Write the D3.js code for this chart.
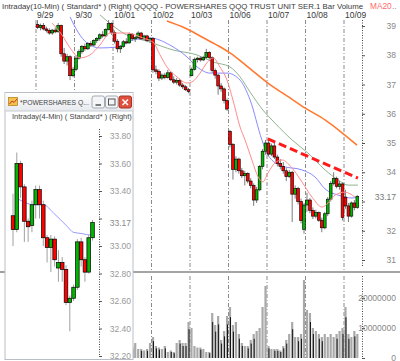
<!DOCTYPE html>
<html><head><meta charset="utf-8">
<script src="https://cdn.jsdelivr.net/npm/d3@7"></script>
<style>
body{margin:0;background:#fff;overflow:hidden}
svg{display:block}
text{font-family:"Liberation Sans",Arial,sans-serif}
</style>
</head><body>
<svg id="c" width="400" height="361"></svg>
<script>
// ---------- DATA ----------
const dayLabels = ["9/29","9/30","10/01","10/02","10/03","10/06","10/07","10/08","10/09"];
const barsPerDay = 13;
// [open, high, low, close]
const ohlc = [
 [39.05,39.20,38.90,38.95],[38.95,39.08,38.85,39.02],[39.02,39.10,38.85,38.90],[38.90,38.98,38.78,38.85],
 [38.85,38.92,38.70,38.76],[38.76,38.90,38.70,38.86],[38.86,38.95,38.75,38.80],[38.80,39.10,38.78,39.02],
 [39.02,39.05,37.95,38.05],[38.05,38.25,37.70,37.80],[37.80,38.05,37.65,37.95],[37.95,38.00,37.15,37.30],
 [37.30,37.60,37.25,37.52],
 [37.52,38.00,37.45,37.90],[37.90,38.20,37.85,38.12],[38.12,38.35,38.05,38.30],[38.30,38.40,38.15,38.22],
 [38.22,38.45,38.18,38.40],[38.40,38.48,38.28,38.35],[38.35,38.55,38.30,38.50],[38.50,38.62,38.42,38.58],
 [38.58,38.75,38.50,38.70],[38.70,38.82,38.60,38.66],[38.66,38.92,38.62,38.88],[38.88,39.20,38.85,39.08],
 [39.08,39.12,38.70,38.78],
 [38.78,38.85,38.40,38.48],[38.48,38.55,38.10,38.22],[38.22,38.35,38.08,38.30],[38.30,38.52,38.25,38.46],
 [38.46,38.58,38.38,38.42],[38.42,38.78,38.40,38.72],[38.72,38.76,38.50,38.56],[38.56,38.66,38.45,38.60],
 [38.60,38.82,38.55,38.76],[38.76,38.80,38.52,38.56],[38.56,38.70,38.50,38.66],[38.66,38.70,38.45,38.50],
 [38.50,38.62,38.42,38.58],
 [38.58,38.62,37.40,37.50],[37.50,37.65,37.35,37.45],[37.45,37.52,37.12,37.22],[37.22,37.38,37.15,37.32],
 [37.32,37.40,37.18,37.24],[37.24,37.50,37.20,37.40],[37.40,37.44,37.12,37.16],[37.16,37.28,37.02,37.08],
 [37.08,37.22,37.00,37.14],[37.14,37.20,36.92,36.98],[36.98,37.05,36.85,36.92],[36.92,36.98,36.78,36.82],
 [36.82,36.88,36.70,36.76],
 [37.30,37.58,37.28,37.52],[37.52,37.92,37.48,37.85],[37.85,37.95,37.75,37.90],[37.90,37.96,37.78,37.84],
 [37.84,37.98,37.80,37.92],[37.92,38.22,37.88,38.10],[38.10,38.14,37.85,37.92],[37.92,37.96,37.40,37.48],
 [37.48,37.55,37.20,37.32],[37.32,37.36,36.65,36.95],[36.95,37.05,36.75,36.85],[36.85,36.90,36.35,36.45],
 [36.45,36.52,36.10,36.16],
 [35.40,35.45,34.85,34.95],[34.95,35.00,33.75,34.10],[34.10,34.55,34.00,34.45],[34.45,34.50,33.95,34.05],
 [34.05,34.15,33.80,33.88],[33.88,34.05,33.55,33.96],[33.96,34.00,33.62,33.70],[33.70,33.80,33.45,33.55],
 [33.55,33.62,32.85,33.05],[33.05,33.50,32.95,33.40],[33.40,34.25,33.35,34.20],[34.20,34.80,34.10,34.72],
 [34.72,35.10,34.60,35.00],
 [35.00,35.15,34.55,34.62],[34.62,34.98,34.55,34.90],[34.90,35.00,34.45,34.52],[34.52,34.60,34.20,34.30],
 [34.30,34.45,34.10,34.20],[34.20,34.35,33.95,34.05],[34.05,34.15,33.70,33.85],[33.85,34.08,33.80,34.00],
 [34.00,34.05,32.30,33.25],[33.25,33.55,33.10,33.45],[33.45,33.50,32.90,33.00],[33.00,33.10,32.25,32.35],
 [32.05,32.95,31.90,32.88],
 [32.88,33.30,32.65,33.05],[33.05,33.12,32.60,32.70],[32.70,32.80,32.40,32.50],[32.50,32.72,32.42,32.62],
 [32.62,32.66,32.30,32.36],[32.36,32.45,31.95,32.10],[32.10,32.65,32.05,32.58],[32.58,33.15,32.50,33.08],
 [33.08,33.70,33.00,33.62],[33.62,34.00,33.55,33.78],[33.78,33.85,33.45,33.52],[33.52,33.70,33.40,33.60],
 [33.60,33.65,32.35,32.45],
 [33.15,33.40,32.75,32.85],[32.85,32.95,32.30,32.50],[32.50,33.00,32.45,32.95],[32.95,33.05,32.70,32.80],
 [32.80,33.22,32.75,33.17]
];
// volume per bar, millions of shares
const volumeM = [
 8,4,3,3,3,3,4,5,10,7,6,8,9,
 6,4,3,3,3,3,4,3,3,4,5,6,8,
 7,5,4,3,3,4,4,5,3,3,2.5,3,5,
 7,4,3.5,3,4,2,2.5,2,5,6,5,5,12,
 10,4,3.5,3.5,3,2,2,15,11,14,6,9,14,
 17,11,12,8,5,4,4,6,8,9,10,17,24,
 4,3,3,3,2.5,4,6,8,12,7,7,8,26,
 16,15,10,9,8,7,8,7,8,7,8,9,10,
 17,8,7,9,8
];
// moving averages: [bar index, price]
const maPink = [[4.9,39.10],[8.3,38.69],[11.0,38.25],[14.4,37.91],[17.7,38.01],[21.1,38.35],[24.5,38.76],
 [30.2,38.76],[35.6,38.59],[39.0,38.45],[41.4,38.01],[43.7,37.60],[47.1,37.26],[50.5,37.05],[52.2,37.09],
 [54.9,37.39],[57.2,37.74],[59.3,37.91],[61.6,37.60],[64.0,37.15],[66.0,36.47],[68.4,35.55],[70.1,35.10],
 [72.4,34.42],[74.5,33.84],[76.1,33.67],[77.8,33.97],[80.2,34.32],[82.6,34.42],[85.9,34.15],[89.3,33.67],
 [92.7,33.15],[96.1,32.81],[98.1,32.95],[100.5,33.22],[103.8,33.32],[107.2,33.15]];
const maBlue = [[11.0,39.31],[13.7,38.79],[16.7,38.42],[21.1,38.25],[26.9,38.28],[32.3,38.52],[38.0,38.59],
 [44.7,38.35],[50.5,37.94],[53.9,37.60],[58.3,37.39],[64.0,37.39],[68.4,37.15],[71.8,36.47],[75.8,35.10],
 [77.8,34.59],[82.6,34.21],[89.3,34.08],[93.7,33.84],[97.1,33.43],[101.5,33.22],[106.2,33.12],[108.2,33.15]];
const maGreen = [[21.1,39.38],[25.2,39.03],[28.9,38.76],[38.0,38.45],[45.8,38.18],[53.9,38.01],[59.3,37.77],
 [65.0,37.60],[68.4,37.26],[71.8,36.74],[76.1,36.13],[80.2,35.68],[86.0,35.10],[91.3,34.66],[97.1,34.08],
 [101.5,33.74],[104.9,33.56],[108.2,33.56]];
const maOrange = [[43.7,39.17],[49.8,38.93],[54.9,38.66],[60.0,38.38],[65.0,38.08],[70.7,37.63],[77.8,37.05],
 [85.3,36.54],[90.3,36.20],[97.1,35.79],[102.1,35.41],[107.9,34.93]];
const trendLine = [[77.8,35.14],[108.2,33.80]];
const priceTicks = [31,32,33,34,35,36,37,38,39];
const lastPrice = 33.17;
const volTicks = [0,10,20];

// inset (4-min) window
const insetOHLC = [
 [33.22,33.38,33.00,33.12],[33.12,33.68,33.10,33.60],[33.60,33.62,33.35,33.43],[33.43,33.45,33.03,33.18],
 [33.18,33.20,33.03,33.14],[33.15,33.33,33.10,33.30],[33.30,33.44,33.20,33.41],[33.41,33.44,33.20,33.30],
 [33.30,33.33,33.00,33.06],[33.06,33.08,32.88,32.99],[32.99,33.08,32.81,33.05],[33.05,33.07,32.85,32.90],
 [32.84,32.97,32.74,32.88],[32.88,32.92,32.74,32.83],[32.83,32.86,32.57,32.59],[32.59,32.64,32.38,32.62],
 [32.62,32.72,32.60,32.70],[32.70,33.05,32.68,33.03],[33.03,33.06,32.85,32.90],[32.90,32.92,32.74,32.81],
 [32.81,33.08,32.80,33.06],[33.06,33.19,33.04,33.17]
];
const insetMA = [[1.5,33.34],[5.5,33.30],[8.1,33.30],[10.7,33.24],[14.4,33.14],[15.9,33.10],[18.3,33.09],[20.4,33.08],[21,33.10]];
const insetTicks = [32.2,32.4,32.6,32.8,33.0,33.2,33.4,33.6,33.8];
const insetLast = 33.17;

// ---------- DRAW ----------
const svg = d3.select("#c");
const defs = svg.append("defs");
const GREEN = "#00b400", RED = "#ff0000";

const x = d3.scaleLinear().domain([0, barsPerDay * dayLabels.length]).range([36, 382.5]);
const y = d3.scaleLinear().domain([31, 39]).range([260, 26]);
const yv = d3.scaleLinear().domain([0, 20]).range([358, 298]);

defs.append("clipPath").attr("id","mainClip").append("rect").attr("x",0).attr("y",10).attr("width",362).attr("height",260);
defs.append("clipPath").attr("id","volClip").append("rect").attr("x",0).attr("y",274).attr("width",362).attr("height",85);

// fit a text to a given width by adjusting font size
function fitText(sel, width, base) {
  sel.attr("font-size", base);
  const w = sel.node().getComputedTextLength();
  if (w > 0) sel.attr("font-size", base * width / w);
}

// title
const title = svg.append("text").attr("x",2).attr("y",8.5).attr("fill","#3a3a3a")
  .text("Intraday(10-Min) ( Standard* )  (Right)  QQQQ - POWERSHARES QQQ TRUST UNIT SER.1  Bar  Volume");
fitText(title, 362, 9);
svg.append("text").attr("x",370).attr("y",8.5).attr("font-size",8.3).attr("fill","#ff6a6a").text("MA20");
svg.append("text").attr("x",392).attr("y",8.5).attr("font-size",8).attr("fill","#777").text("..");

// date labels and lines
dayLabels.forEach((d,k) => {
  const xx = x(k*barsPerDay);
  svg.append("text").attr("x",xx+1).attr("y",17.5).attr("font-size",8.5).attr("fill","#3a3a3a").text(d);
  svg.append("line").attr("x1",xx).attr("x2",xx).attr("y1",20).attr("y2",270)
    .attr("stroke","#8a8a8a").attr("stroke-dasharray","4,2,1,2");
  svg.append("line").attr("x1",xx).attr("x2",xx).attr("y1",276).attr("y2",358)
    .attr("stroke","#8a8a8a").attr("stroke-dasharray","4,2,1,2");
});

// separator between price and volume panels
svg.append("rect").attr("x",0).attr("y",271).attr("width",400).attr("height",2).attr("fill","#a4a4a4");

// price axis
const pAxis = svg.append("g").attr("transform","translate(362,0)")
  .call(d3.axisRight(y).tickValues(priceTicks).tickSize(3)
    .tickFormat(d => Math.abs(d - lastPrice) < 0.3 ? "" : d3.format("d")(d)));
pAxis.select(".domain").remove();
pAxis.selectAll("line").attr("stroke","#555");
pAxis.selectAll("text").attr("x",34).attr("text-anchor","end").attr("fill","#888").attr("font-size",8.5)
  .attr("font-family","Liberation Sans, Arial, sans-serif");
svg.append("line").attr("x1",362.5).attr("x2",362.5).attr("y1",20).attr("y2",266)
  .attr("stroke","#444").attr("stroke-dasharray","1,1.5");
svg.append("text").attr("x",396).attr("y",y(lastPrice)+3).attr("text-anchor","end").attr("font-size",8.5)
  .attr("fill","#777").text(lastPrice.toFixed(2));

// volume axis
const vAxis = svg.append("g").attr("transform","translate(362,0)")
  .call(d3.axisRight(yv).tickValues(volTicks).tickSize(3).tickFormat(d => String(d*1000000)));
vAxis.select(".domain").remove();
vAxis.selectAll("line").attr("stroke","#555");
vAxis.selectAll("text").attr("x",34).attr("text-anchor","end").attr("fill","#888").attr("font-size",8.5)
  .attr("font-family","Liberation Sans, Arial, sans-serif");
svg.append("line").attr("x1",362.5).attr("x2",362.5).attr("y1",276).attr("y2",359)
  .attr("stroke","#444").attr("stroke-dasharray","1,1.5");

// volume bars
const vg = svg.append("g").attr("clip-path","url(#volClip)");
vg.selectAll("rect.v").data(volumeM).join("rect").attr("class","v")
  .attr("x",(d,i)=>x(i+0.5)-1.1).attr("width",2.2)
  .attr("y",d=>yv(d)).attr("height",d=>yv(0)-yv(d)).attr("fill","#a9a9a9");
vg.selectAll("line.vd").data(volumeM.map((v,i)=>({v,i})).filter(d=>ohlc[d.i][3]<ohlc[d.i][0]))
  .join("line").attr("class","vd")
  .attr("x1",d=>x(d.i+0.5)+0.5).attr("x2",d=>x(d.i+0.5)+0.5)
  .attr("y1",d=>yv(d.v*0.8)).attr("y2",yv(0)).attr("stroke","#111").attr("stroke-width",1);

// main plot
const mg = svg.append("g").attr("clip-path","url(#mainClip)");
const line = d3.line().x(d=>x(d[0]+0.5)).y(d=>y(d[1])).curve(d3.curveMonotoneX);
mg.append("path").datum(maGreen).attr("d",line).attr("fill","none").attr("stroke","#8fb48f").attr("stroke-width",1);
mg.append("path").datum(maBlue).attr("d",line).attr("fill","none").attr("stroke","#8a8aff").attr("stroke-width",1);
mg.append("path").datum(maOrange).attr("d",line).attr("fill","none").attr("stroke","#ff7a30").attr("stroke-width",1.6);

// candles
const cg = mg.append("g");
cg.selectAll("line.w").data(ohlc).join("line").attr("class","w")
  .attr("x1",(d,i)=>x(i+0.5)).attr("x2",(d,i)=>x(i+0.5))
  .attr("y1",d=>y(d[1])).attr("y2",d=>y(d[2])).attr("stroke","#7a7a7a").attr("stroke-width",1);
cg.selectAll("rect.b").data(ohlc).join("rect").attr("class","b")
  .attr("x",(d,i)=>x(i+0.5)-1.4).attr("width",2.8)
  .attr("y",d=>y(Math.max(d[0],d[3])))
  .attr("height",d=>Math.max(1,Math.abs(y(d[0])-y(d[3]))))
  .attr("fill",d=>d[3]>=d[0]?GREEN:RED).attr("stroke","#000").attr("stroke-width",0.6);

mg.append("path").datum(maPink).attr("d",line).attr("fill","none").attr("stroke","#ff8c8c").attr("stroke-width",1);

// trend line
mg.append("path").datum(trendLine).attr("d",d3.line().x(d=>x(d[0]+0.5)).y(d=>y(d[1])))
  .attr("stroke","#ff1a1a").attr("stroke-width",3).attr("stroke-dasharray","8,4").attr("fill","none");

// left separator tick
svg.append("line").attr("x1",0).attr("x2",4).attr("y1",272).attr("y2",272).attr("stroke","#999");

// ---------- INSET WINDOW ----------
const w = svg.append("g");
const wx = 5, wy = 92.5, ww = 128, wh = 267;
defs.append("clipPath").attr("id","winClip").append("rect").attr("x",wx).attr("y",wy).attr("width",ww).attr("height",wh);
const grad = defs.append("linearGradient").attr("id","tbar").attr("x1",0).attr("y1",0).attr("x2",0).attr("y2",1);
grad.append("stop").attr("offset","0%").attr("stop-color","#ffffff");
grad.append("stop").attr("offset","100%").attr("stop-color","#e6e9ee");
w.append("rect").attr("x",wx).attr("y",wy).attr("width",ww).attr("height",wh)
  .attr("fill","#fff").attr("stroke","#b9bec6").attr("stroke-width",1);
w.append("rect").attr("x",wx+0.5).attr("y",wy+0.5).attr("width",ww-1).attr("height",18)
  .attr("fill","url(#tbar)");
w.append("line").attr("x1",wx).attr("x2",wx+ww).attr("y1",111).attr("y2",111).attr("stroke","#c8ccd2");
// icon
w.append("rect").attr("x",8.5).attr("y",97.5).attr("width",9).attr("height",8).attr("fill","#f3c24a").attr("stroke","#b07a10").attr("stroke-width",0.7);
w.append("path").attr("d","M9.5,104 L12,101 L14,102.5 L17,99").attr("stroke","#c0392b").attr("fill","none").attr("stroke-width",1);
const wt = w.append("text").attr("x",20).attr("y",105).attr("fill","#444").text("*POWERSHARES Q...");
fitText(wt, 69, 8.5);
// buttons
[[92,"min"],[105.5,"max"],[119,"close"]].forEach(([bx,t]) => {
  w.append("rect").attr("x",bx).attr("y",96).attr("width",12.5).attr("height",12).attr("rx",2)
    .attr("fill", t==="close" ? "#e0503c" : "#f4f5f7").attr("stroke", t==="close" ? "#a8321f" : "#a5abb3");
  if (t==="min") w.append("line").attr("x1",bx+3.5).attr("x2",bx+9).attr("y1",105).attr("y2",105).attr("stroke","#555").attr("stroke-width",1.5);
  if (t==="max") w.append("rect").attr("x",bx+3).attr("y",99).attr("width",6.5).attr("height",6).attr("fill","none").attr("stroke","#555");
  if (t==="close") w.append("path").attr("d",`M${bx+3.5},99.5 L${bx+9},105 M${bx+9},99.5 L${bx+3.5},105`).attr("stroke","#fff").attr("stroke-width",1.5);
});
const wc = w.append("g").attr("clip-path","url(#winClip)");
const st = wc.append("text").attr("x",12).attr("y",118.5).attr("fill","#444").text("Intraday(4-Min) ( Standard* )  (Right)");
fitText(st, 120, 8.5);

const xi = d3.scaleLinear().domain([0, insetOHLC.length-1]).range([13, 92.5]);
const yi = d3.scaleLinear().domain([32.2, 33.8]).range([356, 136]);

const iAxis = wc.append("g").attr("transform","translate(99,0)")
  .call(d3.axisRight(yi).tickValues(insetTicks).tickSize(3)
    .tickFormat(d => Math.abs(d - insetLast) < 0.05 ? "" : d3.format(".2f")(d)));
iAxis.select(".domain").remove();
iAxis.selectAll("line").attr("stroke","#555");
iAxis.selectAll("text").attr("x",32).attr("text-anchor","end").attr("fill","#999").attr("font-size",8.5)
  .attr("font-family","Liberation Sans, Arial, sans-serif");
wc.append("line").attr("x1",99.5).attr("x2",99.5).attr("y1",129).attr("y2",356)
  .attr("stroke","#444").attr("stroke-dasharray","1,1.5");
wc.append("text").attr("x",131).attr("y",yi(insetLast)+3).attr("text-anchor","end").attr("font-size",8.5)
  .attr("fill","#888").text(insetLast.toFixed(2));

wc.append("path").datum(insetMA).attr("d",d3.line().x(d=>xi(d[0])).y(d=>yi(d[1])).curve(d3.curveMonotoneX))
  .attr("fill","none").attr("stroke","#9a9aff").attr("stroke-width",1);
wc.selectAll("line.iw").data(insetOHLC).join("line").attr("class","iw")
  .attr("x1",(d,i)=>xi(i)).attr("x2",(d,i)=>xi(i))
  .attr("y1",d=>yi(d[1])).attr("y2",d=>yi(d[2])).attr("stroke","#a0a0a0");
wc.selectAll("rect.ib").data(insetOHLC).join("rect").attr("class","ib")
  .attr("x",(d,i)=>xi(i)-1.8).attr("width",3.6)
  .attr("y",d=>yi(Math.max(d[0],d[3])))
  .attr("height",d=>Math.max(1,Math.abs(yi(d[0])-yi(d[3]))))
  .attr("fill",d=>d[3]>=d[0]?GREEN:RED).attr("stroke","#000").attr("stroke-width",0.7);
</script>
</body></html>
